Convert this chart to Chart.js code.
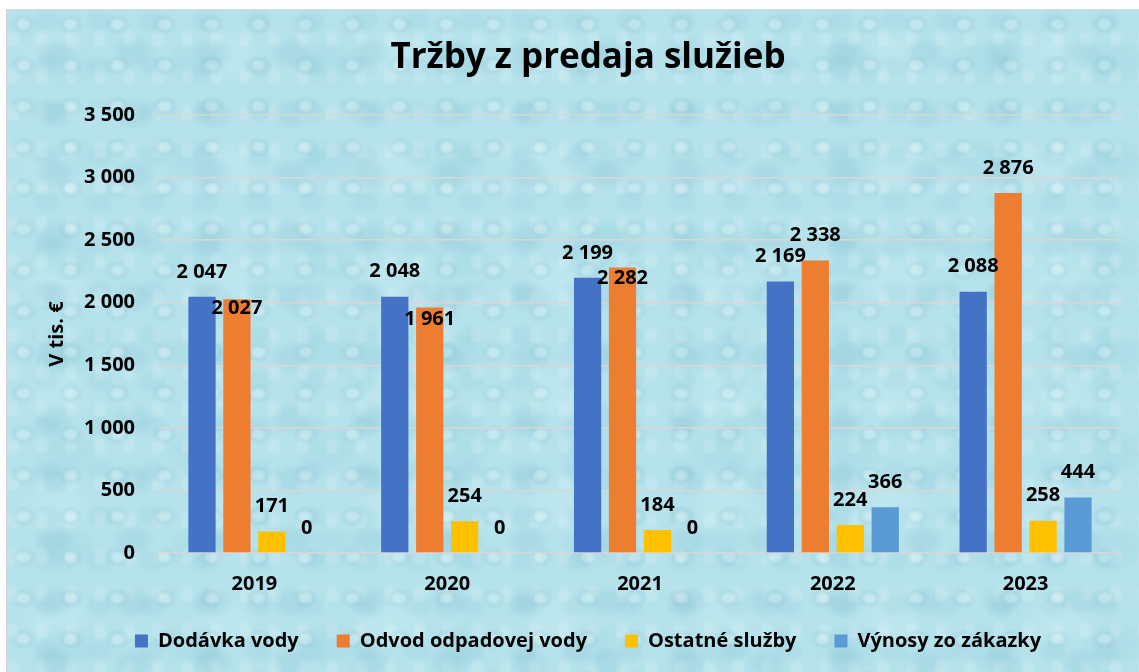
<!DOCTYPE html>
<html lang="sk">
<head>
<meta charset="utf-8">
<title>Tržby z predaja služieb</title>
<script src="https://cdn.jsdelivr.net/npm/chart.js@4.4.0/dist/chart.umd.min.js"></script>
<style>
  html, body { margin: 0; padding: 0; background: #ffffff; }
  body { width: 1139px; height: 672px; position: relative; overflow: hidden; }
  /* vodne kvapky - len pribliznie cez css gradienty */
  #ramik {
    position: absolute; left: 7px; top: 10px; width: 1132px; height: 662px;
    outline: 1px solid #d6d6d6;
    background-color: #b5e2eb;
    background-image:
      radial-gradient(ellipse 14px 11px at 35% 35%, rgba(255,255,255,.20) 0 30%, rgba(110,175,195,.12) 60%, transparent 100%),
      radial-gradient(ellipse 22px 17px at 60% 70%, rgba(95,165,190,.13) 0 45%, transparent 100%),
      radial-gradient(ellipse 9px 12px at 20% 80%, rgba(255,255,255,.16) 0 40%, transparent 100%),
      radial-gradient(ellipse 17px 13px at 75% 25%, rgba(130,190,210,.14) 0 50%, transparent 100%),
      radial-gradient(ellipse 34px 24px at 45% 55%, rgba(120,190,210,.12) 0 50%, transparent 100%),
      radial-gradient(ellipse 40px 30px at 30% 40%, rgba(225,248,252,.18) 0 40%, transparent 100%);
    background-size: 47px 41px, 79px 61px, 29px 37px, 53px 45px, 131px 97px, 167px 113px;
  }
  canvas { position: absolute; left: 0; top: 0; }
</style>
</head>
<body>
<div id="ramik"><canvas id="graf" width="1132" height="662"></canvas></div>
<script>
// udaje z grafu (v tis. €)
const roky = ['2019', '2020', '2021', '2022', '2023'];
const dodavkaVody = [2047, 2048, 2199, 2169, 2088];
const odvodOdpadovejVody = [2027, 1961, 2282, 2338, 2876];
const ostatneSluzby = [171, 254, 184, 224, 258];
const vynosyZoZakazky = [0, 0, 0, 366, 444];
const osY = [0, 500, 1000, 1500, 2000, 2500, 3000, 3500];

const pismo = '"Open Sans", Lato, sans-serif';

// cislo s medzerou ako oddelovacom tisicov
function formatuj(v) {
    return String(v).replace(/\B(?=(\d{3})+(?!\d))/g, ' ');
}

// stitky s hodnotami nad stlpcami (niektore oranzove su v exceli posunute nizsie)
const posunStitkov = { 1: [34, 37, 36, 0, 0] };
const stitkyPlugin = {
    id: 'stitky',
    afterDatasetsDraw(chart) {
        const ctx = chart.ctx;
        ctx.save();
        ctx.font = 'bold 20px ' + pismo;
        ctx.fillStyle = '#000000';
        ctx.textAlign = 'center';
        ctx.textBaseline = 'middle';
        chart.data.datasets.forEach(function(ds, i) {
            const meta = chart.getDatasetMeta(i);
            meta.data.forEach(function(el, j) {
                const posun = posunStitkov[i] ? posunStitkov[i][j] : 0;
                ctx.fillText(formatuj(ds.data[j]), el.x, el.y - 25 + posun);
            });
        });
        ctx.restore();
    }
};

const ctx = document.getElementById('graf');
const myChart = new Chart(ctx, {
    type: 'bar',
    data: {
        labels: roky,
        datasets: [
            { label: 'Dodávka vody', data: dodavkaVody, backgroundColor: '#4472C4' },
            { label: 'Odvod odpadovej vody', data: odvodOdpadovejVody, backgroundColor: '#ED7D31' },
            { label: 'Ostatné služby', data: ostatneSluzby, backgroundColor: '#FFC000' },
            { label: 'Výnosy zo zákazky', data: vynosyZoZakazky, backgroundColor: '#5B9BD5' }
        ]
    },
    options: {
        responsive: false,
        animation: false,
        devicePixelRatio: 1,
        categoryPercentage: 0.725,
        barPercentage: 0.78,
        layout: { padding: { left: 47, right: 17, top: 0, bottom: 11 } },
        plugins: {
            title: {
                display: true,
                text: 'Tržby z predaja služieb',
                color: '#000000',
                font: { family: pismo, size: 35, weight: 'bold' },
                padding: { top: 27, bottom: 36 }
            },
            legend: {
                position: 'bottom',
                labels: {
                    color: '#000000',
                    boxWidth: 13,
                    boxHeight: 13,
                    padding: 38,
                    font: { family: pismo, size: 20, weight: 'bold' }
                }
            },
            tooltip: { enabled: false }
        },
        scales: {
            x: {
                grid: { display: false, drawTicks: false },
                border: { display: false },
                ticks: { color: '#000000', padding: 19, font: { family: pismo, size: 20, weight: 'bold' } },
                afterFit: function(s) { s.height = 40; }
            },
            y: {
                min: 0,
                max: 3500,
                afterBuildTicks: function(s) { s.ticks = osY.map(v => ({ value: v })); },
                grid: { color: '#dcd5d5', lineWidth: 1.5, drawTicks: false },
                border: { display: false },
                ticks: {
                    color: '#000000',
                    padding: 23,
                    font: { family: pismo, size: 20, weight: 'bold' },
                    callback: function(v) { return formatuj(v); }
                },
                title: {
                    display: true,
                    text: 'V tis. €',
                    color: '#000000',
                    padding: { top: -9, bottom: 0 },
                    font: { family: pismo, size: 20, weight: 'bold' }
                },
                afterFit: function(s) { s.width = 104; }
            }
        }
    },
    plugins: [stitkyPlugin]
});
</script>
</body>
</html>
